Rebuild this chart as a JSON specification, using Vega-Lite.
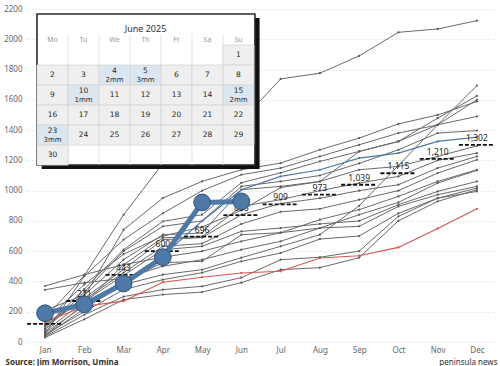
{
  "$schema": "https://vega.github.io/schema/vega-lite/v6.json",
  "width": 468,
  "height": 333,
  "autosize": {"type": "none"},
  "padding": {"left": 27, "top": 9, "right": 5, "bottom": 24},
  "background": "white",
  "config": {
    "view": {"stroke": null},
    "font": "Noto Sans",
    "axis": {"labelFont": "Noto Sans", "labelFontSize": 8, "labelColor": "#666", "titleFont": "Noto Sans"}
  },
  "datasets": {
    "grays": [
      {"s":"g01","m":"Jan","v":160},{"s":"g01","m":"Feb","v":440},{"s":"g01","m":"Mar","v":840},{"s":"g01","m":"Apr","v":1180},{"s":"g01","m":"May","v":1350},{"s":"g01","m":"Jun","v":1460},{"s":"g01","m":"Jul","v":1738},{"s":"g01","m":"Aug","v":1776},{"s":"g01","m":"Sep","v":1890},{"s":"g01","m":"Oct","v":2046},{"s":"g01","m":"Nov","v":2068},{"s":"g01","m":"Dec","v":2123},
      {"s":"g02","m":"Jan","v":100},{"s":"g02","m":"Feb","v":300},{"s":"g02","m":"Mar","v":742},{"s":"g02","m":"Apr","v":951},{"s":"g02","m":"May","v":1061},{"s":"g02","m":"Jun","v":1138},{"s":"g02","m":"Jul","v":1182},{"s":"g02","m":"Aug","v":1270},{"s":"g02","m":"Sep","v":1347},{"s":"g02","m":"Oct","v":1441},{"s":"g02","m":"Nov","v":1500},{"s":"g02","m":"Dec","v":1589},
      {"s":"g03","m":"Jan","v":55},{"s":"g03","m":"Feb","v":435},{"s":"g03","m":"Mar","v":676},{"s":"g03","m":"Apr","v":850},{"s":"g03","m":"May","v":1000},{"s":"g03","m":"Jun","v":1105},{"s":"g03","m":"Jul","v":1149},{"s":"g03","m":"Aug","v":1226},{"s":"g03","m":"Sep","v":1303},{"s":"g03","m":"Oct","v":1380},{"s":"g03","m":"Nov","v":1435},{"s":"g03","m":"Dec","v":1490},
      {"s":"g04","m":"Jan","v":90},{"s":"g04","m":"Feb","v":350},{"s":"g04","m":"Mar","v":610},{"s":"g04","m":"Apr","v":797},{"s":"g04","m":"May","v":841},{"s":"g04","m":"Jun","v":1052},{"s":"g04","m":"Jul","v":1118},{"s":"g04","m":"Aug","v":1193},{"s":"g04","m":"Sep","v":1259},{"s":"g04","m":"Oct","v":1325},{"s":"g04","m":"Nov","v":1479},{"s":"g04","m":"Dec","v":1626},
      {"s":"g05","m":"Jan","v":80},{"s":"g05","m":"Feb","v":330},{"s":"g05","m":"Mar","v":600},{"s":"g05","m":"Apr","v":764},{"s":"g05","m":"May","v":800},{"s":"g05","m":"Jun","v":1028},{"s":"g05","m":"Jul","v":1061},{"s":"g05","m":"Aug","v":1100},{"s":"g05","m":"Sep","v":1180},{"s":"g05","m":"Oct","v":1270},{"s":"g05","m":"Nov","v":1380},{"s":"g05","m":"Dec","v":1397},
      {"s":"g06","m":"Jan","v":210},{"s":"g06","m":"Feb","v":310},{"s":"g06","m":"Mar","v":544},{"s":"g06","m":"Apr","v":709},{"s":"g06","m":"May","v":720},{"s":"g06","m":"Jun","v":1006},{"s":"g06","m":"Jul","v":1028},{"s":"g06","m":"Aug","v":1061},{"s":"g06","m":"Sep","v":1138},{"s":"g06","m":"Oct","v":1160},{"s":"g06","m":"Nov","v":1226},{"s":"g06","m":"Dec","v":1296},
      {"s":"g07","m":"Jan","v":45},{"s":"g07","m":"Feb","v":250},{"s":"g07","m":"Mar","v":511},{"s":"g07","m":"Apr","v":689},{"s":"g07","m":"May","v":696},{"s":"g07","m":"Jun","v":896},{"s":"g07","m":"Jul","v":940},{"s":"g07","m":"Aug","v":1000},{"s":"g07","m":"Sep","v":1050},{"s":"g07","m":"Oct","v":1094},{"s":"g07","m":"Nov","v":1200},{"s":"g07","m":"Dec","v":1248},
      {"s":"g08","m":"Jan","v":120},{"s":"g08","m":"Feb","v":290},{"s":"g08","m":"Mar","v":480},{"s":"g08","m":"Apr","v":676},{"s":"g08","m":"May","v":690},{"s":"g08","m":"Jun","v":841},{"s":"g08","m":"Jul","v":915},{"s":"g08","m":"Aug","v":950},{"s":"g08","m":"Sep","v":1000},{"s":"g08","m":"Oct","v":1039},{"s":"g08","m":"Nov","v":1149},{"s":"g08","m":"Dec","v":1226},
      {"s":"g09","m":"Jan","v":370},{"s":"g09","m":"Feb","v":445},{"s":"g09","m":"Mar","v":511},{"s":"g09","m":"Apr","v":560},{"s":"g09","m":"May","v":600},{"s":"g09","m":"Jun","v":665},{"s":"g09","m":"Jul","v":722},{"s":"g09","m":"Aug","v":808},{"s":"g09","m":"Sep","v":874},{"s":"g09","m":"Oct","v":962},{"s":"g09","m":"Nov","v":1061},{"s":"g09","m":"Dec","v":1138},
      {"s":"g10","m":"Jan","v":345},{"s":"g10","m":"Feb","v":392},{"s":"g10","m":"Mar","v":420},{"s":"g10","m":"Apr","v":500},{"s":"g10","m":"May","v":544},{"s":"g10","m":"Jun","v":610},{"s":"g10","m":"Jul","v":665},{"s":"g10","m":"Aug","v":753},{"s":"g10","m":"Sep","v":841},{"s":"g10","m":"Oct","v":922},{"s":"g10","m":"Nov","v":1050},{"s":"g10","m":"Dec","v":1134},
      {"s":"g11","m":"Jan","v":110},{"s":"g11","m":"Feb","v":280},{"s":"g11","m":"Mar","v":458},{"s":"g11","m":"Apr","v":632},{"s":"g11","m":"May","v":650},{"s":"g11","m":"Jun","v":780},{"s":"g11","m":"Jul","v":860},{"s":"g11","m":"Aug","v":880},{"s":"g11","m":"Sep","v":940},{"s":"g11","m":"Oct","v":1000},{"s":"g11","m":"Nov","v":1116},{"s":"g11","m":"Dec","v":1204},
      {"s":"g12","m":"Jan","v":70},{"s":"g12","m":"Feb","v":270},{"s":"g12","m":"Mar","v":440},{"s":"g12","m":"Apr","v":610},{"s":"g12","m":"May","v":632},{"s":"g12","m":"Jun","v":731},{"s":"g12","m":"Jul","v":753},{"s":"g12","m":"Aug","v":780},{"s":"g12","m":"Sep","v":800},{"s":"g12","m":"Oct","v":907},{"s":"g12","m":"Nov","v":995},{"s":"g12","m":"Dec","v":1061},
      {"s":"g13","m":"Jan","v":60},{"s":"g13","m":"Feb","v":240},{"s":"g13","m":"Mar","v":400},{"s":"g13","m":"Apr","v":524},{"s":"g13","m":"May","v":533},{"s":"g13","m":"Jun","v":709},{"s":"g13","m":"Jul","v":722},{"s":"g13","m":"Aug","v":753},{"s":"g13","m":"Sep","v":764},{"s":"g13","m":"Oct","v":896},{"s":"g13","m":"Nov","v":973},{"s":"g13","m":"Dec","v":1028},
      {"s":"g14","m":"Jan","v":40},{"s":"g14","m":"Feb","v":220},{"s":"g14","m":"Mar","v":380},{"s":"g14","m":"Apr","v":445},{"s":"g14","m":"May","v":478},{"s":"g14","m":"Jun","v":557},{"s":"g14","m":"Jul","v":632},{"s":"g14","m":"Aug","v":709},{"s":"g14","m":"Sep","v":900},{"s":"g14","m":"Oct","v":1166},{"s":"g14","m":"Nov","v":1435},{"s":"g14","m":"Dec","v":1694},
      {"s":"g15","m":"Jan","v":50},{"s":"g15","m":"Feb","v":200},{"s":"g15","m":"Mar","v":346},{"s":"g15","m":"Apr","v":412},{"s":"g15","m":"May","v":458},{"s":"g15","m":"Jun","v":533},{"s":"g15","m":"Jul","v":588},{"s":"g15","m":"Aug","v":680},{"s":"g15","m":"Sep","v":700},{"s":"g15","m":"Oct","v":850},{"s":"g15","m":"Nov","v":950},{"s":"g15","m":"Dec","v":1017},
      {"s":"g16","m":"Jan","v":35},{"s":"g16","m":"Feb","v":180},{"s":"g16","m":"Mar","v":300},{"s":"g16","m":"Apr","v":346},{"s":"g16","m":"May","v":368},{"s":"g16","m":"Jun","v":425},{"s":"g16","m":"Jul","v":544},{"s":"g16","m":"Aug","v":560},{"s":"g16","m":"Sep","v":600},{"s":"g16","m":"Oct","v":830},{"s":"g16","m":"Nov","v":950},{"s":"g16","m":"Dec","v":995},
      {"s":"g17","m":"Jan","v":30},{"s":"g17","m":"Feb","v":150},{"s":"g17","m":"Mar","v":280},{"s":"g17","m":"Apr","v":313},{"s":"g17","m":"May","v":330},{"s":"g17","m":"Jun","v":392},{"s":"g17","m":"Jul","v":478},{"s":"g17","m":"Aug","v":491},{"s":"g17","m":"Sep","v":557},{"s":"g17","m":"Oct","v":801},{"s":"g17","m":"Nov","v":929},{"s":"g17","m":"Dec","v":1006},
      {"s":"g18","m":"Jan","v":140},{"s":"g18","m":"Feb","v":380},{"s":"g18","m":"Mar","v":580},{"s":"g18","m":"Apr","v":700},{"s":"g18","m":"May","v":760},{"s":"g18","m":"Jun","v":870},{"s":"g18","m":"Jul","v":1020},{"s":"g18","m":"Aug","v":1060},{"s":"g18","m":"Sep","v":1259},{"s":"g18","m":"Oct","v":1325},{"s":"g18","m":"Nov","v":1435},{"s":"g18","m":"Dec","v":1600}
    ],
    "red": [
      {"m":"Jan","v":130},{"m":"Feb","v":236},{"m":"Mar","v":270},{"m":"Apr","v":395},{"m":"May","v":428},{"m":"Jun","v":456},{"m":"Jul","v":467},{"m":"Aug","v":555},{"m":"Sep","v":570},{"m":"Oct","v":625},{"m":"Nov","v":750},{"m":"Dec","v":880}
    ],
    "blue": [
      {"m":"Jan","v":180},{"m":"Feb","v":250},{"m":"Mar","v":390},{"m":"Apr","v":570},{"m":"May","v":800},{"m":"Jun","v":1006},{"m":"Jul","v":1094},{"m":"Aug","v":1138},{"m":"Sep","v":1215},{"m":"Oct","v":1248},{"m":"Nov","v":1325},{"m":"Dec","v":1354}
    ],
    "cur": [
      {"m":"Jan","v":190},{"m":"Feb","v":248},{"m":"Mar","v":386},{"m":"Apr","v":560},{"m":"May","v":922},{"m":"Jun","v":929}
    ],
    "avg": [
      {"m":"Jan","v":120},{"m":"Feb","v":271},{"m":"Mar","v":443},{"m":"Apr","v":600},{"m":"May","v":696},{"m":"Jun","v":838},{"m":"Jul","v":909},{"m":"Aug","v":973},{"m":"Sep","v":1039},{"m":"Oct","v":1115},{"m":"Nov","v":1210},{"m":"Dec","v":1302}
    ],
    "days": [
      {"day":1,"wd":6,"wk":0,"rain":""},
      {"day":2,"wd":0,"wk":1,"rain":""},{"day":3,"wd":1,"wk":1,"rain":""},{"day":4,"wd":2,"wk":1,"rain":"2mm"},{"day":5,"wd":3,"wk":1,"rain":"3mm"},{"day":6,"wd":4,"wk":1,"rain":""},{"day":7,"wd":5,"wk":1,"rain":""},{"day":8,"wd":6,"wk":1,"rain":""},
      {"day":9,"wd":0,"wk":2,"rain":""},{"day":10,"wd":1,"wk":2,"rain":"1mm"},{"day":11,"wd":2,"wk":2,"rain":""},{"day":12,"wd":3,"wk":2,"rain":""},{"day":13,"wd":4,"wk":2,"rain":""},{"day":14,"wd":5,"wk":2,"rain":""},{"day":15,"wd":6,"wk":2,"rain":"2mm"},
      {"day":16,"wd":0,"wk":3,"rain":""},{"day":17,"wd":1,"wk":3,"rain":""},{"day":18,"wd":2,"wk":3,"rain":""},{"day":19,"wd":3,"wk":3,"rain":""},{"day":20,"wd":4,"wk":3,"rain":""},{"day":21,"wd":5,"wk":3,"rain":""},{"day":22,"wd":6,"wk":3,"rain":""},
      {"day":23,"wd":0,"wk":4,"rain":"3mm"},{"day":24,"wd":1,"wk":4,"rain":""},{"day":25,"wd":2,"wk":4,"rain":""},{"day":26,"wd":3,"wk":4,"rain":""},{"day":27,"wd":4,"wk":4,"rain":""},{"day":28,"wd":5,"wk":4,"rain":""},{"day":29,"wd":6,"wk":4,"rain":""},
      {"day":30,"wd":0,"wk":5,"rain":""}
    ],
    "heads": [
      {"d":"Mo","i":0},{"d":"Tu","i":1},{"d":"We","i":2},{"d":"Th","i":3},{"d":"Fr","i":4},{"d":"Sa","i":5},{"d":"Su","i":6}
    ],
    "cols": [{"i":1},{"i":2},{"i":3},{"i":4},{"i":5},{"i":6}],
    "one": [{"t":"June 2025"}]
  },
  "layer": [
    {
      "encoding": {
        "x": {"field": "m", "type": "ordinal",
          "scale": {"type": "point", "domain": ["Jan","Feb","Mar","Apr","May","Jun","Jul","Aug","Sep","Oct","Nov","Dec"], "padding": 0.46},
          "axis": {"title": "peninsula news", "titleAnchor": "end", "titleAlign": "right", "titleX": 470, "titleY": 20, "titleBaseline": "middle", "titleFontSize": 8, "titleFontWeight": "normal", "titleColor": "#333", "ticks": false, "domain": false, "grid": false, "labelPadding": 4, "labelAngle": 0}},
        "y": {"field": "v", "type": "quantitative",
          "scale": {"domain": [0, 2200], "nice": false, "zero": true},
          "axis": {"title": "Source: Jim Morrison, Umina", "titleAngle": 0, "titleX": -22, "titleY": 353, "titleAlign": "left", "titleBaseline": "middle", "titleFontSize": 8, "titleFontWeight": "bold", "titleColor": "#333", "values": [0,200,400,600,800,1000,1200,1400,1600,1800,2000,2200], "format": "d", "ticks": false, "domain": false, "grid": true, "gridColor": "#e3e3e3", "gridDash": [2, 2], "labelPadding": 5}}
      },
      "layer": [
        {
          "data": {"name": "grays"},
          "mark": {"type": "line", "color": "#6a6a6a", "strokeWidth": 1, "point": {"filled": true, "size": 5, "color": "#5a5a5a"}},
          "encoding": {"detail": {"field": "s"}, "order": {"value": null}}
        },
        {
          "data": {"name": "red"},
          "mark": {"type": "line", "color": "#d9534f", "strokeWidth": 1.1, "point": {"filled": true, "size": 5, "color": "#d9534f"}},
          "encoding": {"order": {"value": null}}
        },
        {
          "data": {"name": "blue"},
          "mark": {"type": "line", "color": "#4e79a7", "strokeWidth": 1.2, "point": {"filled": true, "size": 5, "color": "#4e79a7"}},
          "encoding": {"order": {"value": null}}
        },
        {
          "data": {"name": "avg"},
          "mark": {"type": "rule", "color": "#111", "strokeWidth": 1.8, "strokeDash": [4, 2], "xOffset": -18, "x2Offset": 18},
          "encoding": {"x2": {"field": "m"}}
        },
        {
          "data": {"name": "avg"},
          "mark": {"type": "text", "dy": -7, "fontSize": 8.5, "color": "#222"},
          "encoding": {"text": {"field": "v", "type": "quantitative", "format": ","}}
        },
        {
          "data": {"name": "cur"},
          "mark": {"type": "line", "color": "#4e79a7", "strokeWidth": 5},
          "encoding": {"order": {"value": null}}
        },
        {
          "data": {"name": "cur"},
          "mark": {"type": "point", "shape": "circle", "filled": true, "size": 280, "color": "#4e79a7", "stroke": "#2c5480", "strokeWidth": 1, "opacity": 1}
        }
      ]
    },
    {
      "layer": [
        {
          "data": {"name": "one"},
          "mark": {"type": "rect", "color": "#111"},
          "encoding": {
            "x": {"datum": 0.15, "type": "quantitative", "scale": {"domain": [-0.3226, 14.774], "nice": false, "zero": false}, "axis": null},
            "x2": {"datum": 7.18},
            "y": {"datum": -1.35, "type": "quantitative", "scale": {"domain": [-1.8, 14.85], "nice": false, "zero": false, "reverse": true}, "axis": null},
            "y2": {"datum": 6.2}
          }
        },
        {
          "data": {"name": "one"},
          "mark": {"type": "rect", "fill": "white", "stroke": "#2a2a2a", "strokeWidth": 1.6},
          "encoding": {
            "x": {"datum": 0, "type": "quantitative", "axis": null},
            "x2": {"datum": 7.03},
            "y": {"datum": -1.55, "type": "quantitative", "axis": null},
            "y2": {"datum": 6}
          }
        },
        {
          "data": {"name": "cols"},
          "mark": {"type": "rule", "color": "#dcdcdc", "strokeWidth": 0.8},
          "encoding": {
            "x": {"field": "i", "type": "quantitative", "axis": null},
            "y": {"datum": -0.55, "type": "quantitative", "axis": null},
            "y2": {"datum": 6}
          }
        },
        {
          "data": {"name": "days"},
          "transform": [
            {"calculate": "datum.wd + 1", "as": "x1"},
            {"calculate": "datum.wk + 1", "as": "y1"}
          ],
          "mark": {"type": "rect", "stroke": "#d6d6d6", "strokeWidth": 0.8},
          "encoding": {
            "x": {"field": "wd", "type": "quantitative", "axis": null},
            "x2": {"field": "x1"},
            "y": {"field": "wk", "type": "quantitative", "axis": null},
            "y2": {"field": "y1"},
            "fill": {"condition": {"test": "datum.rain != ''", "value": "#dce6f0"}, "value": "#efefef"}
          }
        },
        {
          "data": {"name": "one"},
          "mark": {"type": "text", "fontSize": 9, "color": "#333", "font": "Noto Sans"},
          "encoding": {
            "x": {"datum": 3.5, "type": "quantitative", "axis": null},
            "y": {"datum": -0.78, "type": "quantitative", "axis": null},
            "text": {"field": "t"}
          }
        },
        {
          "data": {"name": "heads"},
          "transform": [{"calculate": "datum.i + 0.5", "as": "c"}],
          "mark": {"type": "text", "fontSize": 7, "color": "#999", "font": "Noto Sans"},
          "encoding": {
            "x": {"field": "c", "type": "quantitative", "axis": null},
            "y": {"datum": -0.27, "type": "quantitative", "axis": null},
            "text": {"field": "d"}
          }
        },
        {
          "data": {"name": "days"},
          "transform": [
            {"calculate": "datum.wd + 0.5", "as": "c"},
            {"calculate": "datum.rain != '' ? datum.wk + 0.3 : datum.wk + 0.5", "as": "r"}
          ],
          "mark": {"type": "text", "fontSize": 7.5, "color": "#2a2a2a", "font": "DejaVu Sans"},
          "encoding": {
            "x": {"field": "c", "type": "quantitative", "axis": null},
            "y": {"field": "r", "type": "quantitative", "axis": null},
            "text": {"field": "day"}
          }
        },
        {
          "data": {"name": "days"},
          "transform": [
            {"filter": "datum.rain != ''"},
            {"calculate": "datum.wd + 0.5", "as": "c"},
            {"calculate": "datum.wk + 0.73", "as": "r"}
          ],
          "mark": {"type": "text", "fontSize": 7, "color": "#2a2a2a", "font": "DejaVu Sans"},
          "encoding": {
            "x": {"field": "c", "type": "quantitative", "axis": null},
            "y": {"field": "r", "type": "quantitative", "axis": null},
            "text": {"field": "rain"}
          }
        }
      ]
    }
  ],
  "resolve": {"scale": {"x": "independent", "y": "independent"}}
}
